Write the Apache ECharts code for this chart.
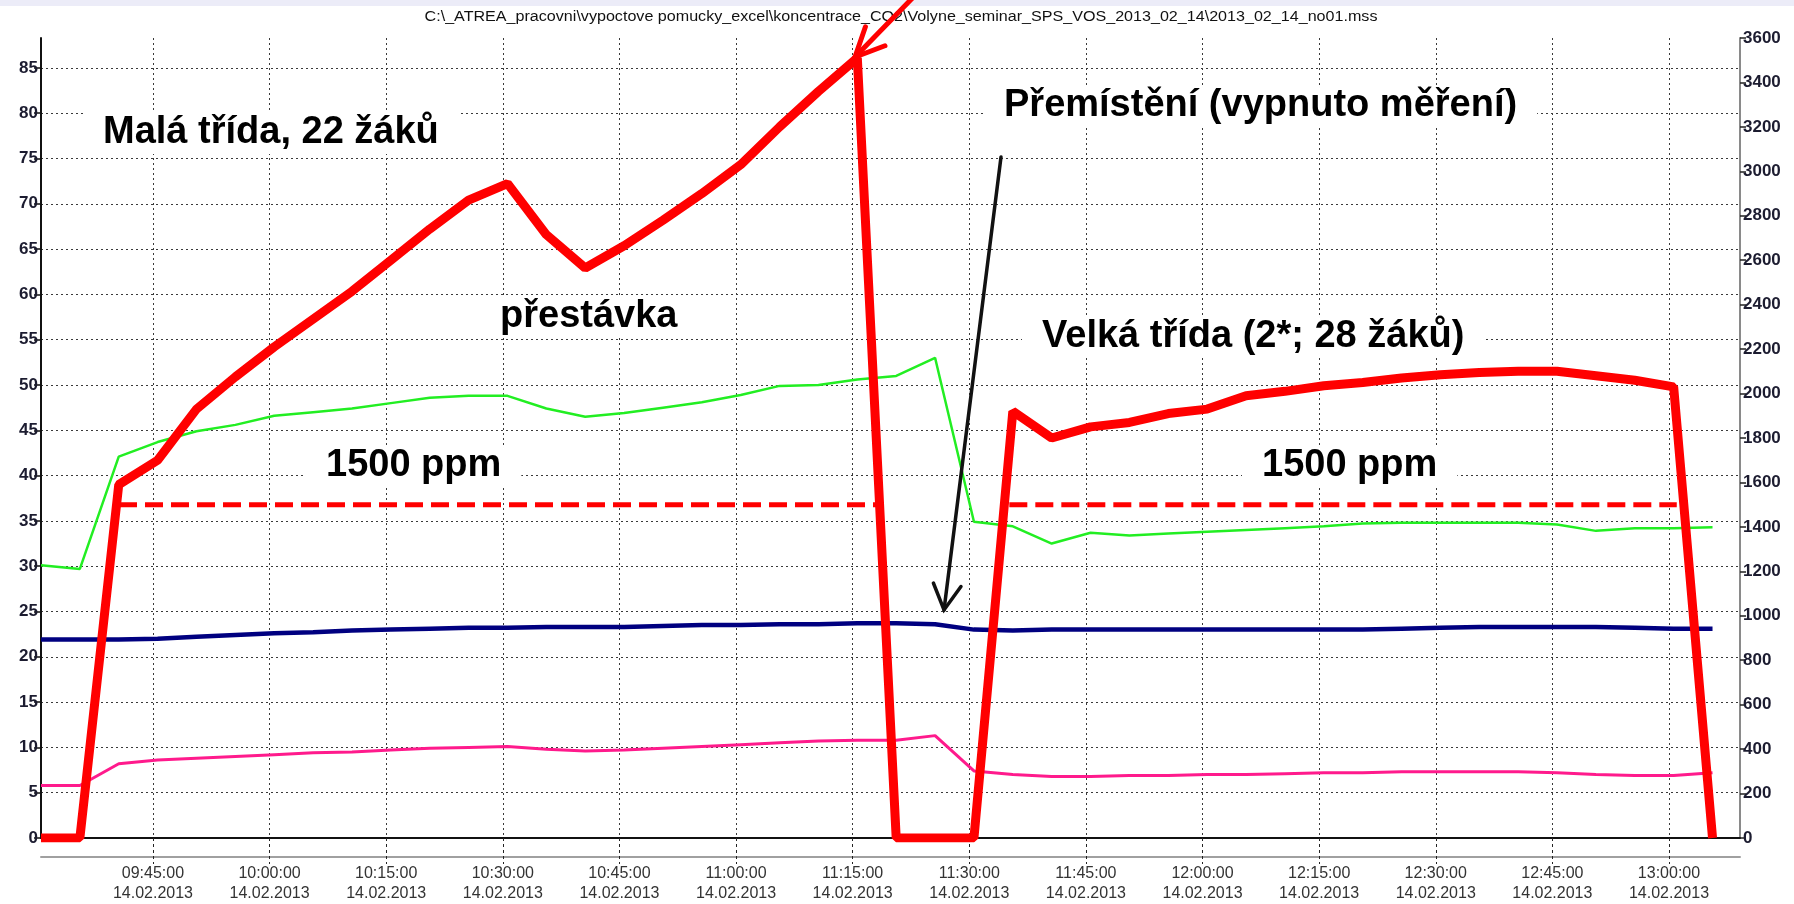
<!DOCTYPE html>
<html><head><meta charset="utf-8">
<script src="https://cdn.jsdelivr.net/npm/echarts@6/dist/echarts.min.js"></script>
<style>html,body{margin:0;padding:0;background:#fff}#c{width:1794px;height:904px}</style>
</head><body><div id="c"></div><script>
const times = ["09:30:36","09:35:36","09:40:36","09:45:36","09:50:36","09:55:36","10:00:36","10:05:36","10:10:36","10:15:36","10:20:36","10:25:36","10:30:36","10:35:36","10:40:36","10:45:36","10:50:36","10:55:36","11:00:36","11:05:36","11:10:36","11:15:36","11:20:36","11:25:36","11:30:36","11:35:36","11:40:36","11:45:36","11:50:36","11:55:36","12:00:36","12:05:36","12:10:36","12:15:36","12:20:36","12:25:36","12:30:36","12:35:36","12:40:36","12:45:36","12:50:36","12:55:36","13:00:36","13:05:36"];
const co2 = [0,0,1590,1700,1930,2075,2210,2335,2460,2600,2740,2870,2945,2715,2565,2665,2780,2900,3030,3200,3360,3510,0,0,0,1920,1800,1850,1870,1910,1930,1990,2010,2035,2050,2070,2085,2095,2100,2100,2080,2060,2030,0];
const relHumidity = [30.1,29.7,42.1,43.7,44.9,45.6,46.6,47.0,47.4,48.0,48.6,48.8,48.8,47.4,46.5,46.9,47.5,48.1,48.9,49.9,50.0,50.6,51.0,53.0,34.9,34.4,32.5,33.7,33.4,33.6,33.8,34.0,34.2,34.4,34.7,34.8,34.8,34.8,34.8,34.6,33.9,34.2,34.2,34.3];
const temperature = [21.9,21.9,21.9,22.0,22.2,22.4,22.6,22.7,22.9,23.0,23.1,23.2,23.2,23.3,23.3,23.3,23.4,23.5,23.5,23.6,23.6,23.7,23.7,23.6,23.0,22.9,23.0,23.0,23.0,23.0,23.0,23.0,23.0,23.0,23.0,23.1,23.2,23.3,23.3,23.3,23.3,23.2,23.1,23.1];
const humidityG = [5.8,5.8,8.2,8.6,8.8,9.0,9.2,9.4,9.5,9.7,9.9,10.0,10.1,9.8,9.6,9.7,9.9,10.1,10.3,10.5,10.7,10.8,10.8,11.3,7.4,7.0,6.8,6.8,6.9,6.9,7.0,7.0,7.1,7.2,7.2,7.3,7.3,7.3,7.3,7.2,7.0,6.9,6.9,7.2];
const thresholdValue = 1500;
const thresholdSpans = [["09:40:38","11:18:19"],["11:35:09","13:01:00"]];
const xTickLabels = ["09:45:00","10:00:00","10:15:00","10:30:00","10:45:00","11:00:00","11:15:00","11:30:00","11:45:00","12:00:00","12:15:00","12:30:00","12:45:00","13:00:00"];
const dateLabel = "14.02.2013";
const leftTicks = [0,5,10,15,20,25,30,35,40,45,50,55,60,65,70,75,80,85];
const xRange = ["09:30:36","13:09:08"];
const titleText = "C:\\_ATREA_pracovni\\vypoctove pomucky_excel\\koncentrace_CO2\\Volyne_seminar_SPS_VOS_2013_02_14\\2013_02_14_no01.mss";

function toMin(s){const p=s.split(':').map(Number);return p[0]*60+p[1]+(p[2]||0)/60;}
const xTicks = xTickLabels.map(toMin);
const pair = arr => times.map((t,i)=>[toMin(t),arr[i]]);
const FONT = '"Liberation Sans", Arial, sans-serif';

const chart = echarts.init(document.getElementById('c'));
const dotted = {color:'#3a3a3a', type:[2,3], width:1};
const series = [
  {type:'line', yAxisIndex:0, data:pair(temperature), showSymbol:false, lineStyle:{color:'#000080', width:4.5}, z:2},
  {type:'line', yAxisIndex:0, data:pair(humidityG), showSymbol:false, lineStyle:{color:'#ff1a8c', width:3}, z:2},
  {type:'line', yAxisIndex:0, data:pair(relHumidity), showSymbol:false, lineStyle:{color:'#22ee22', width:2.5}, z:3},
];
thresholdSpans.forEach(sp=>{
  series.push({type:'line', yAxisIndex:1, data:[[toMin(sp[0]),thresholdValue],[toMin(sp[1]),thresholdValue]], showSymbol:false, lineStyle:{color:'#ff0000', width:5, type:[18,8]}, z:3});
});
series.push({type:'line', yAxisIndex:1, data:pair(co2), showSymbol:false, lineStyle:{color:'#ff0000', width:9, join:'bevel'}, z:4});

chart.setOption({
  animation:false,
  backgroundColor:'#ffffff',
  grid:{left:41, right:54, top:38, bottom:64},
  xAxis:[{
    type:'value', min:toMin(xRange[0]), max:toMin(xRange[1]), position:'bottom',
    axisLine:{show:true, onZero:false, lineStyle:{color:'#111', width:2}},
    axisTick:{show:true, customValues:xTicks, length:26, lineStyle:{color:'#222', type:[3,3], width:1}},
    axisLabel:{customValues:xTicks, margin:26, lineHeight:20, fontSize:16, fontFamily:FONT, color:'#333',
      formatter:v=>{const i=xTicks.findIndex(t=>Math.abs(t-v)<1e-6);return i<0?'':xTickLabels[i]+'\n'+dateLabel;}},
    splitLine:{show:true, lineStyle:dotted}
  },{
    type:'value', min:0, max:1, position:'bottom', offset:19,
    axisLine:{show:true, onZero:false, lineStyle:{color:'#a0a0a0', width:2}},
    axisTick:{show:false}, axisLabel:{show:false}, splitLine:{show:false}
  }],
  yAxis:[{
    type:'value', min:0, max:88.3, position:'left',
    axisLine:{show:true, lineStyle:{color:'#111', width:2}},
    axisTick:{show:true, customValues:leftTicks, length:7, lineStyle:{color:'#111', width:1.5}},
    axisLabel:{customValues:leftTicks, margin:3, fontSize:17, fontWeight:'bold', fontFamily:FONT, color:'#1c1c30', formatter:v=>String(v)},
    splitLine:{show:true, lineStyle:dotted}
  },{
    type:'value', min:0, max:3600, interval:200, position:'right',
    axisLine:{show:true, lineStyle:{color:'#8a8a8a', width:2}},
    axisTick:{show:true, length:6, lineStyle:{color:'#222', width:1.5}},
    axisLabel:{margin:3, fontSize:17, fontWeight:'bold', fontFamily:FONT, color:'#1c1c30', formatter:v=>String(v)},
    splitLine:{show:false}
  }],
  series:series
});

function note(text, left, cy){
  return {type:'text', x:left-20, y:cy, z:50,
    style:{text:text, font:'bold 38px '+FONT, fill:'#000', align:'left', verticalAlign:'middle', backgroundColor:'#fff', padding:[2,20,2,20]}};
}
function arrow(tip, tail, wing, ang, color, width){
  const a = Math.atan2(tail[1]-tip[1], tail[0]-tip[0]);
  const w1=[tip[0]+wing*Math.cos(a+ang), tip[1]+wing*Math.sin(a+ang)];
  const w2=[tip[0]+wing*Math.cos(a-ang), tip[1]+wing*Math.sin(a-ang)];
  return [
    {type:'polyline', z:60, shape:{points:[tail,tip]}, style:{stroke:color, lineWidth:width, lineCap:'round', fill:null}},
    {type:'polyline', z:60, shape:{points:[w1,tip,w2]}, style:{stroke:color, lineWidth:width, lineCap:'round', lineJoin:'miter', fill:null}}
  ];
}
chart.setOption({graphic:[
  {type:'rect', z:1, shape:{x:0,y:0,width:1794,height:6}, style:{fill:'#ececf8'}},
  {type:'text', x:901, y:17, z:40, scaleX:1.15, originX:0, originY:0,
    style:{text:titleText, font:'14px '+FONT, fill:'#111', align:'center', verticalAlign:'middle'}},
  note('Malá třída, 22 žáků', 103, 133),
  note('přestávka', 500, 317),
  note('Přemístění (vypnuto měření)', 1004, 106),
  note('Velká třída (2*; 28 žáků)', 1042, 337),
  note('1500 ppm', 326, 466),
  note('1500 ppm', 1262, 466),
  ...arrow([944,610],[1001,157],29,0.5,'#111',3.5),
  ...arrow([855,57],[930,-20],32,0.44,'#ff0000',5)
]});
</script></body></html>
